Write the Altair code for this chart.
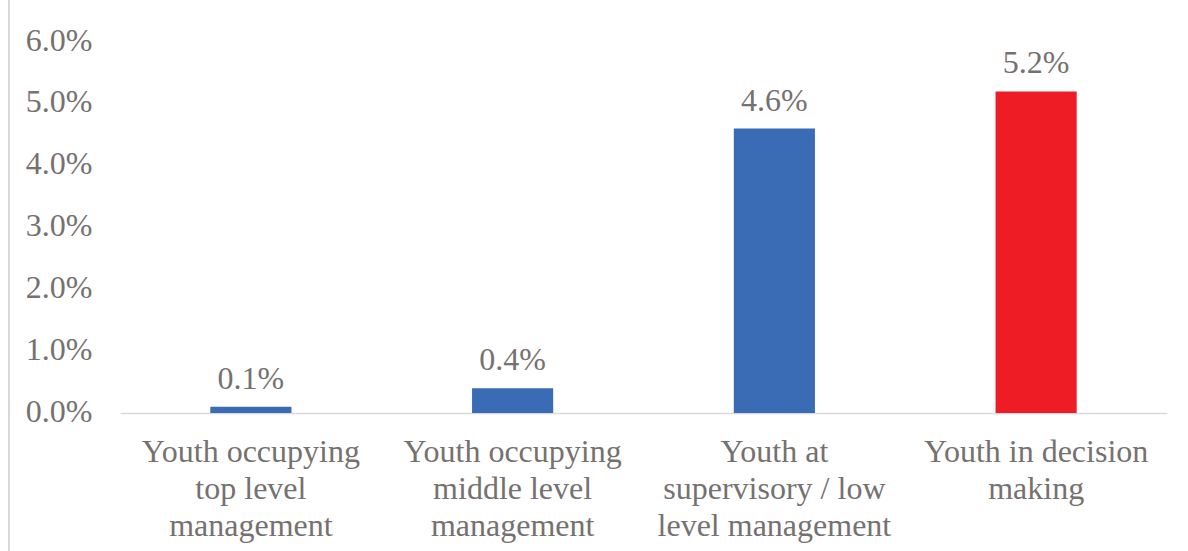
import altair as alt
import pandas as pd

categories = [
    "Youth occupying\ntop level\nmanagement",
    "Youth occupying\nmiddle level\nmanagement",
    "Youth at\nsupervisory / low\nlevel management",
    "Youth in decision\nmaking",
]
shares = [0.001, 0.004, 0.046, 0.052]
bar_colors = ["#3A6BB5", "#3A6BB5", "#3A6BB5", "#EE1C25"]
y_ticks = [0.0, 0.01, 0.02, 0.03, 0.04, 0.05, 0.06]

df = pd.DataFrame({"category": categories, "share": shares, "color": bar_colors})

FONT = "Liberation Serif, Times New Roman, serif"
GRAY = "#767171"
SIZE = 32

x_enc = alt.X(
    "category:N",
    sort=categories,
    scale=alt.Scale(paddingInner=0.69, paddingOuter=0.345),
    axis=alt.Axis(
        title=None,
        labelAngle=0,
        labelExpr="split(datum.label, '\\n')",
        labelFont=FONT,
        labelFontSize=SIZE,
        labelColor=GRAY,
        labelLineHeight=37,
        labelPadding=23,
        labelBaseline="top",
        ticks=False,
        domainColor="#D9D9D9",
        domainWidth=1.5,
        labelLimit=400,
    ),
)

y_enc = alt.Y(
    "share:Q",
    scale=alt.Scale(domain=[0, 0.06], nice=False),
    axis=alt.Axis(
        title=None,
        values=y_ticks,
        format=".1%",
        labelFont=FONT,
        labelFontSize=SIZE,
        labelColor=GRAY,
        labelPadding=28,
        labelOffset=-2,
        ticks=False,
        domain=False,
        grid=False,
    ),
)

bars = alt.Chart(df).mark_bar().encode(
    x=x_enc,
    y=y_enc,
    color=alt.Color("color:N", scale=None),
)

labels = alt.Chart(df).mark_text(
    font=FONT, fontSize=SIZE, color=GRAY, baseline="alphabetic", dy=-18
).encode(
    x=alt.X("category:N", sort=categories),
    y=alt.Y("share:Q"),
    text=alt.Text("share:Q", format=".1%"),
)

# thin frame line at the left edge
frame = alt.Chart(df).mark_rule(color="#D9D9D9", strokeWidth=2, clip=False).encode(
    x=alt.value(-111), y=alt.value(-42), y2=alt.value(509)
)

chart = (
    alt.layer(bars, labels, frame)
    .properties(
        width=1047,
        height=371,
        padding={"left": 120, "top": 42, "right": 21, "bottom": 138},
        autosize=alt.AutoSizeParams(type="none"),
        background="white",
    )
    .configure_view(stroke=None)
    .configure_text(font=FONT)
)

chart.save("out.html", embed_options={"renderer": "svg", "actions": False})
